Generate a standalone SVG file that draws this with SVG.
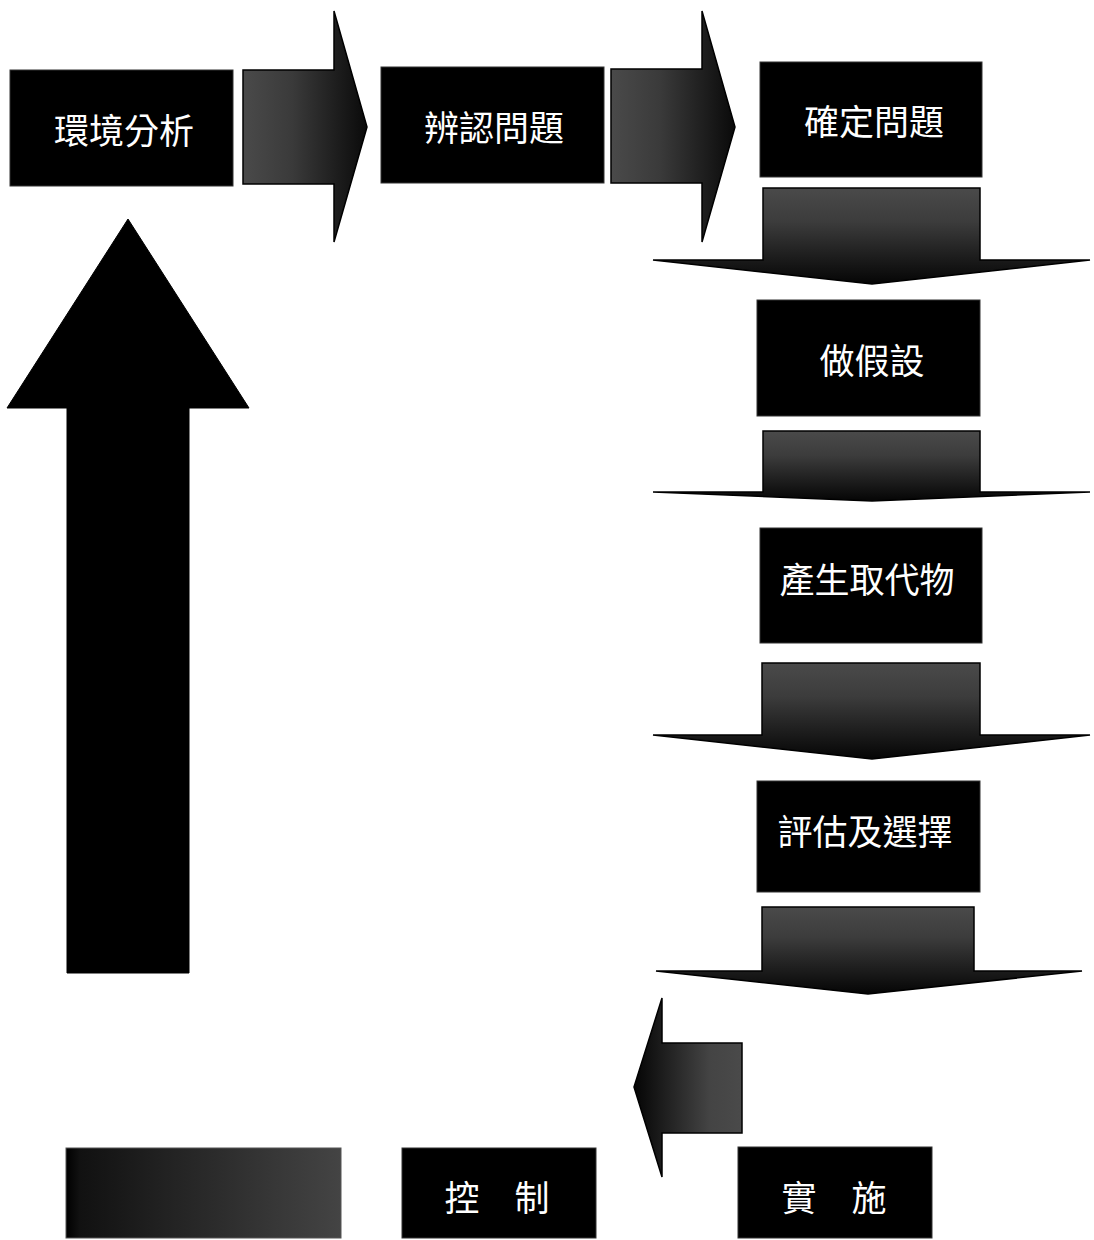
<svg xmlns="http://www.w3.org/2000/svg" width="1094" height="1240" viewBox="0 0 1094 1240">
<defs>
<linearGradient id="gRight" x1="0" y1="0" x2="1" y2="0"><stop offset="0" stop-color="#4a4a4a"/><stop offset="0.4" stop-color="#3a3a3a"/><stop offset="1" stop-color="#0a0a0a"/></linearGradient>
<linearGradient id="gDown" x1="0" y1="0" x2="0" y2="1"><stop offset="0" stop-color="#4a4a4a"/><stop offset="0.35" stop-color="#3c3c3c"/><stop offset="1" stop-color="#050505"/></linearGradient>
<linearGradient id="gLeft" x1="0" y1="0" x2="1" y2="0"><stop offset="0" stop-color="#050505"/><stop offset="0.7" stop-color="#444"/><stop offset="1" stop-color="#4a4a4a"/></linearGradient>
<linearGradient id="gBox" x1="0" y1="0" x2="1" y2="0"><stop offset="0" stop-color="#000"/><stop offset="0.05" stop-color="#111"/><stop offset="1" stop-color="#444"/></linearGradient>
</defs>
<style>
.box{fill:#000;stroke:#333;stroke-width:1}
.lbl{fill:#fff;font-family:"Noto Sans CJK TC","Noto Sans CJK SC",sans-serif;font-size:35px;text-anchor:middle;dominant-baseline:central}
.ar{stroke:#000;stroke-width:1.5;stroke-linejoin:miter}
</style>
<g id="connectors">
<polygon class="ar" fill="url(#gRight)" points="243,70 334,70 334,11 367,127 334,242 334,184 243,184"/>
<polygon class="ar" fill="url(#gRight)" points="611,69 702,69 702,11 735,127 702,242 702,183 611,183"/>
<polygon class="ar" fill="url(#gDown)" points="763,188 980,188 980,260 1090,260 872,284 653,260 763,260"/>
<polygon class="ar" fill="url(#gDown)" points="763,431 980,431 980,492 1090,492 872,501 653,492 763,492"/>
<polygon class="ar" fill="url(#gDown)" points="762,663 980,663 980,735 1090,735 872,759 653,735 762,735"/>
<polygon class="ar" fill="url(#gDown)" points="762,907 974,907 974,971 1082,971 868,994 656,971 762,971"/>
<polygon class="ar" fill="url(#gLeft)" points="742,1043 742,1133 662,1133 662,1177 634,1087 662,998 662,1043"/>
<polygon fill="#000" stroke="#000" points="128,219 249,408 189,408 189,973 67,973 67,408 7,408"/>
</g>
<g id="n1"><rect class="box" x="10" y="70" width="223" height="116"/><text class="lbl" x="124" y="128">環境分析</text></g>
<g id="n2"><rect class="box" x="381" y="67" width="223" height="116"/><text class="lbl" x="494" y="125">辨認問題</text></g>
<g id="n3"><rect class="box" x="760" y="62" width="222" height="115"/><text class="lbl" x="874" y="119">確定問題</text></g>
<g id="n4"><rect class="box" x="757" y="300" width="223" height="116"/><text class="lbl" x="872" y="358">做假設</text></g>
<g id="n5"><rect class="box" x="760" y="528" width="222" height="115"/><text class="lbl" x="867" y="577">產生取代物</text></g>
<g id="n6"><rect class="box" x="757" y="781" width="223" height="111"/><text class="lbl" x="865" y="829">評估及選擇</text></g>
<g id="n7"><rect class="box" x="738" y="1147" width="194" height="91"/><text class="lbl" x="834" y="1195">實　施</text></g>
<g id="n8"><rect class="box" x="402" y="1148" width="194" height="90"/><text class="lbl" x="497" y="1195">控　制</text></g>
<g id="n9"><rect x="66" y="1148" width="275" height="90" fill="url(#gBox)" stroke="#555" stroke-width="1"/></g>
</svg>
